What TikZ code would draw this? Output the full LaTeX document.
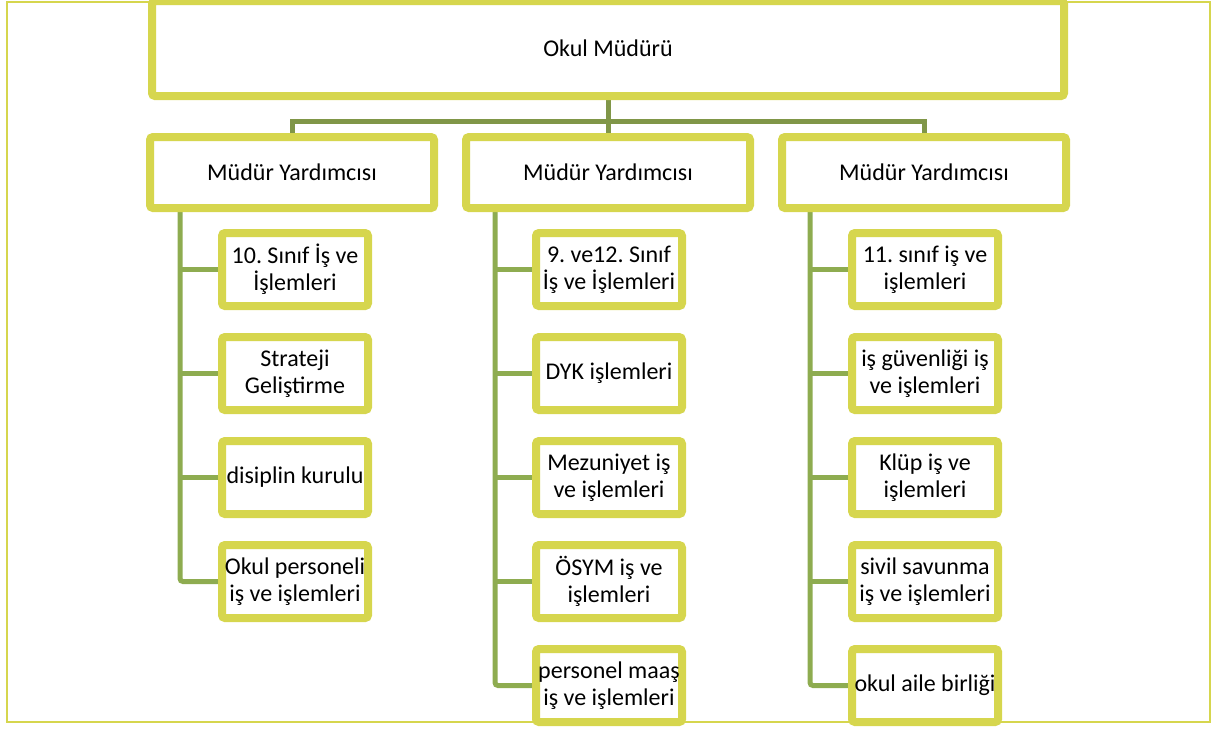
\documentclass[tikz,border=0pt]{standalone}
\usepackage{fontspec}
\setmainfont{Carlito}
\frenchspacing
\usetikzlibrary{shadows,backgrounds}
\definecolor{kutusari}{RGB}{214,214,78}
\definecolor{hatkoyu}{RGB}{128,150,72}
\definecolor{hatacik}{RGB}{142,172,80}

\begin{document}
\begin{tikzpicture}[x=0.5pt,y=-0.5pt,
   kutu/.style={draw=kutusari,line width=4pt,rounded corners=1.5pt,fill=white,
     inner sep=0pt,align=center,font=\fontsize{12}{13.4}\selectfont,
     drop shadow={shadow xshift=1.2pt,shadow yshift=-1.6pt,opacity=0.3,fill=black!70}},
   ust/.style={kutu,minimum width=142pt,minimum height=35.5pt},
   alt/.style={kutu,minimum width=73pt,minimum height=36.5pt},
   bag/.style={draw=hatkoyu,line width=2.5pt},
   dal/.style={draw=hatacik,line width=2.5pt,rounded corners=1.5pt}]
   \useasboundingbox (0,0) rectangle (1215,729);
   % kutular
   \node[kutu,minimum width=456pt,minimum height=47.5pt] (mudur) at (608,48.5) {Okul Müdürü};
   \node[ust] (my1) at (292,172.5) {Müdür Yardımcısı};
   \node[ust] (my2) at (608,172.5) {Müdür Yardımcısı};
   \node[ust] (my3) at (924,172.5) {Müdür Yardımcısı};
   \node[alt] (a1) at (295,269.5) {10. Sınıf İş ve\\İşlemleri};
   \node[alt] (a2) at (295,373.5) {Strateji\\Geliştirme};
   \node[alt] (a3) at (295,477.5) {disiplin kurulu};
   \node[alt] (a4) at (295,581.5) {Okul personeli\\iş ve işlemleri};
   \node[alt] (b1) at (609,269.5) {9. ve12. Sınıf\\İş ve İşlemleri};
   \node[alt] (b2) at (609,373.5) {DYK işlemleri};
   \node[alt] (b3) at (609,477.5) {Mezuniyet iş\\ve işlemleri};
   \node[alt] (b4) at (609,581.5) {ÖSYM iş ve\\işlemleri};
   \node[alt] (b5) at (609,685.5) {personel maaş\\iş ve işlemleri};
   \node[alt] (c1) at (925,269.5) {11. sınıf iş ve\\işlemleri};
   \node[alt] (c2) at (925,373.5) {iş güvenliği iş\\ve işlemleri};
   \node[alt] (c3) at (925,477.5) {Klüp iş ve\\işlemleri};
   \node[alt] (c4) at (925,581.5) {sivil savunma\\iş ve işlemleri};
   \node[alt] (c5) at (925,685.5) {okul aile birliği};
   \begin{scope}[on background layer]
   \draw[draw=kutusari,line width=1pt] (7,2) rectangle (1210,722);
   % ust baglantilar
   \coordinate (bus) at (608,121);
   \draw[bag] (mudur.south) -- (my2.north);
   \draw[bag] (my1.north) |- (bus) -| (my3.north);
   % dallar
   \coordinate (g1) at (180,0);
   \coordinate (g2) at (495,0);
   \coordinate (g3) at (810,0);
   \draw[dal] (my1.south -| g1) |- (a4.west);
   \draw[dal] (a1.west -| g1) -- (a1.west);
   \draw[dal] (a2.west -| g1) -- (a2.west);
   \draw[dal] (a3.west -| g1) -- (a3.west);
   \draw[dal] (my2.south -| g2) |- (b5.west);
   \draw[dal] (b1.west -| g2) -- (b1.west);
   \draw[dal] (b2.west -| g2) -- (b2.west);
   \draw[dal] (b3.west -| g2) -- (b3.west);
   \draw[dal] (b4.west -| g2) -- (b4.west);
   \draw[dal] (my3.south -| g3) |- (c5.west);
   \draw[dal] (c1.west -| g3) -- (c1.west);
   \draw[dal] (c2.west -| g3) -- (c2.west);
   \draw[dal] (c3.west -| g3) -- (c3.west);
   \draw[dal] (c4.west -| g3) -- (c4.west);
   \end{scope}
\end{tikzpicture}
\end{document}
